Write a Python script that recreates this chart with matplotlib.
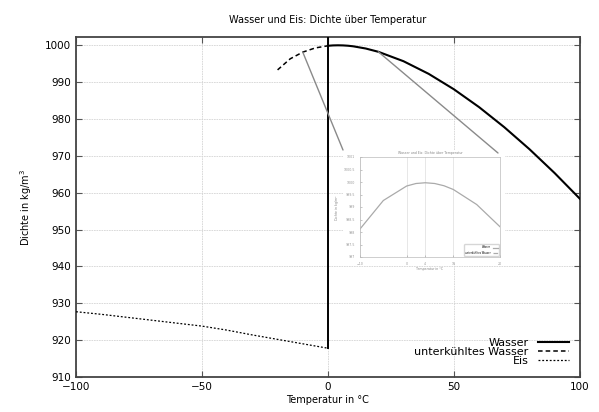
import numpy as np
import matplotlib.pyplot as plt
from matplotlib.patches import Rectangle, ConnectionPatch

t_wasser = [0, 2, 4, 6, 8, 10, 15, 20, 30, 40, 50, 60, 70, 80, 90, 100]
rho_wasser = [999.84, 999.94, 999.97, 999.94, 999.85, 999.70, 999.10, 998.21,
              995.65, 992.22, 988.04, 983.20, 977.76, 971.79, 965.31, 958.35]

t_unterk = [-20, -15, -10, -5, 0]
rho_unterk = [993.3, 996.3, 998.12, 999.26, 999.84]

t_eis = [-100, -90, -80, -70, -60, -50, -40, -30, -20, -10, 0]
rho_eis = [927.7, 927.0, 926.2, 925.4, 924.6, 923.8, 922.7, 921.4, 920.2, 919.0, 917.8]

x_ticks = [-100, -50, 0, 50, 100]
y_ticks = list(range(910, 1001, 10))

fig = plt.figure(figsize=(5.99, 4.12), dpi=100)
ax = fig.add_axes([0.127, 0.085, 0.841, 0.825])

ax.plot(t_wasser, rho_wasser, color='black', lw=1.5, label='Wasser', zorder=3)
ax.plot(t_unterk, rho_unterk, color='black', lw=1.1, ls=(0, (3, 2)), label='unterkühltes Wasser', zorder=3)
ax.plot(t_eis, rho_eis, color='black', lw=0.9, ls=(0, (1.5, 1.5)), label='Eis', zorder=3)
# senkrechte Linie bei 0 °C (Schmelzpunkt)
ax.plot([0, 0], [rho_eis[-1], 1002.2], color='black', lw=1.4, zorder=3)

ax.set_xlim(-100, 100)
ax.set_ylim(910, 1002.2)
ax.set_xticks(x_ticks)
ax.set_yticks(y_ticks)
ax.set_xticklabels(['−100', '−50', '0', '50', '100'])
ax.grid(True, color='#d4d4d4', lw=0.6, ls=(0, (2, 1)))
ax.tick_params(direction='in', top=True, right=True, labelsize=7.5, length=4, color='#555555')
for s in ax.spines.values():
    s.set_linewidth(1.3)
    s.set_color('#444444')

ax.set_title('Wasser und Eis: Dichte über Temperatur', fontsize=7, pad=10)
ax.set_xlabel('Temperatur in °C', fontsize=7, labelpad=2)
ax.set_ylabel('Dichte in kg/m$^3$', fontsize=7, labelpad=8)

leg = ax.legend(loc='lower right', markerfirst=False, frameon=False, fontsize=8,
                handlelength=2.8, handletextpad=0.8, borderaxespad=0.6, labelspacing=-0.1)

# Inset (Ausschnitt um das Dichtemaximum)
W, H = 599, 412
box = Rectangle((343 / W, 1 - 263 / H), 162 / W, 113 / H, transform=fig.transFigure,
                facecolor='white', edgecolor='none', zorder=1)
fig.patches.append(box)

ins = fig.add_axes([360 / W, 1 - 257 / H, 140 / W, 100 / H], zorder=2)
t_all = t_unterk[:-1] + t_wasser
rho_all = rho_unterk[:-1] + rho_wasser
sel = [(t, r) for t, r in zip(t_all, rho_all) if -10 <= t <= 20]
ins.plot([p[0] for p in sel], [p[1] for p in sel], color='#aaaaaa', lw=0.9)
ins.plot([], [], color='#aaaaaa', lw=0.9, label='Wasser')
ins.plot([], [], color='#aaaaaa', lw=0.9, ls='--', label='unterkühltes Wasser')
ins.set_xlim(-10, 20)
ins.set_ylim(997, 1001)
ins.set_xticks([-10, 0, 4, 10, 20])
yt = np.arange(997, 1001.01, 0.5)
ins.set_yticks(yt)
ins.set_yticklabels(['%g' % v for v in yt])
ins.grid(True, axis='x', color='#dddddd', lw=0.5)
ins.tick_params(direction='in', labelsize=2.3, length=1.5, width=0.4, colors='#999999')
for s in ins.spines.values():
    s.set_linewidth(0.5)
    s.set_color('#bbbbbb')
ins.set_title('Wasser und Eis: Dichte über Temperatur', fontsize=2.3, color='#888888', pad=2)
ins.set_xlabel('Temperatur in °C', fontsize=2.3, color='#888888', labelpad=1)
ins.set_ylabel('Dichte in kg/m$^3$', fontsize=2.3, color='#888888', labelpad=1)
ins.legend(loc='lower right', fontsize=1.8, frameon=True, handlelength=2, markerfirst=False)

# Verbindungslinien zum Inset
for t0, r0, corner in [(-10, rho_unterk[2], (343 / W, 1 - 150 / H)),
                       (20, rho_wasser[7], (498 / W, 1 - 153 / H))]:
    con = ConnectionPatch(xyA=(t0, r0), coordsA=ax.transData,
                          xyB=corner, coordsB=fig.transFigure,
                          color='#8a8a8a', lw=1.0, zorder=1.5)
    fig.add_artist(con)

plt.savefig('out.png', dpi=100)
